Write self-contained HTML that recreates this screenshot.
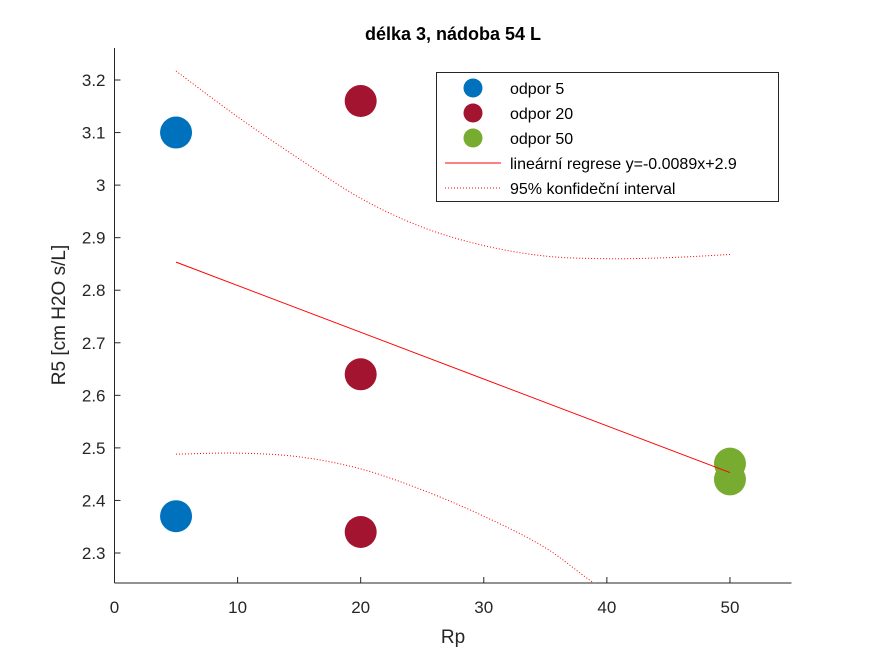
<!DOCTYPE html>
<html><head><meta charset="utf-8"><style>
html,body{margin:0;padding:0;background:#fff;overflow:hidden;width:875px;height:656px;}
svg{display:block;font-family:"Liberation Sans",Arial,sans-serif;}
</style></head><body>
<svg id="chart" width="875" height="656" viewBox="0 0 875 656">
<rect width="875" height="656" fill="#fff"/>
<defs><clipPath id="plotclip"><rect x="114.5" y="48" width="677" height="535"/></clipPath></defs>
<text x="453" y="40" text-anchor="middle" font-size="18" font-weight="bold" fill="#000">délka 3, nádoba 54 L</text>
<g id="axes"></g>
<g id="bands" clip-path="url(#plotclip)"></g>
<g id="marks"></g>
<text x="453" y="643" text-anchor="middle" font-size="19" fill="#262626">Rp</text>
<text transform="translate(65,315) rotate(-90)" text-anchor="middle" font-size="19" fill="#262626">R5 [cm H2O s/L]</text>
<g>
<rect x="436.5" y="72.5" width="342" height="129" fill="#fff" stroke="#262626" stroke-width="1"/>
<circle cx="473" cy="88" r="9.5" fill="#0072BD"/>
<text x="510" y="94" font-size="16" fill="#000">odpor 5</text>
<circle cx="473" cy="113" r="9.5" fill="#A2142F"/>
<text x="510" y="119" font-size="16" fill="#000">odpor 20</text>
<circle cx="473" cy="138" r="9.5" fill="#77AC30"/>
<text x="510" y="144" font-size="16" fill="#000">odpor 50</text>
<line x1="445" y1="163" x2="501" y2="163" stroke="#f00" stroke-width="1"/>
<text x="510" y="169" font-size="16" fill="#000">lineární regrese y=-0.0089x+2.9</text>
<line x1="445" y1="188" x2="501" y2="188" stroke="#f00" stroke-width="1" stroke-dasharray="1,2"/>
<text x="510" y="194" font-size="16" fill="#000">95% konfideční interval</text>
</g>
</svg>
<script>
const xTicks = [0,10,20,30,40,50];
const yTicks = [2.3,2.4,2.5,2.6,2.7,2.8,2.9,3,3.1,3.2];
const yTickLabels = ["2.3","2.4","2.5","2.6","2.7","2.8","2.9","3","3.1","3.2"];
const blueX = [5,5];
const blueY = [3.10,2.37];
const redX = [20,20,20];
const redY = [3.16,2.64,2.34];
const greenX = [50,50];
const greenY = [2.47,2.44];
const regSlope = -0.0089;
const regIntercept = 2.898;
const regRange = [5,50];
const bandX = [5,10,15,20,25,30,35,40,45,50];
const bandUpper = [3.217,3.13,3.05,2.975,2.92,2.885,2.865,2.86,2.862,2.868];
const bandLower = [2.488,2.49,2.483,2.46,2.42,2.37,2.31,2.228,2.19,2.04];

const NS="http://www.w3.org/2000/svg";
const X0=114.5,X1=791.5,Y0=583,Y1=48;
const xmin=0,xmax=55,ymin=2.2429,ymax=3.2609;
const sx=v=>X0+(v-xmin)/(xmax-xmin)*(X1-X0);
const sy=v=>Y0-(v-ymin)/(ymax-ymin)*(Y0-Y1);
function mk(tag,attrs,parent){const e=document.createElementNS(NS,tag);for(const k in attrs)e.setAttribute(k,attrs[k]);parent.appendChild(e);return e;}
const axes=document.getElementById('axes');
let e=mk('line',{x1:X0,y1:Y0,x2:X1,y2:Y0,stroke:'#262626','stroke-width':1},axes);


e=mk('line',{x1:X0,y1:Y0,x2:X0,y2:Y1,stroke:'#262626','stroke-width':1},axes);


xTicks.forEach(t=>{
  const x=sx(t);
  let l=mk('line',{x1:x,y1:Y0,x2:x,y2:Y0-6,stroke:'#262626'},axes);
  
  
  let tx=mk('text',{x:x,y:Y0+30,'text-anchor':'middle','font-size':17,fill:'#262626'},axes);
  tx.textContent=t;
  
  
});
yTicks.forEach((t,i)=>{
  const y=sy(t);
  let l=mk('line',{x1:X0,y1:y,x2:X0+6,y2:y,stroke:'#262626'},axes);
  
  
  let tx=mk('text',{x:X0-9,y:y+6,'text-anchor':'end','font-size':17,fill:'#262626'},axes);
  tx.textContent=yTickLabels[i];
  
  
});
const bands=document.getElementById('bands');
function smooth(xs,ys){
  let d='M'+sx(xs[0])+','+sy(ys[0]);
  for(let i=0;i<xs.length-1;i++){
    const p0=[sx(xs[Math.max(0,i-1)]),sy(ys[Math.max(0,i-1)])],p1=[sx(xs[i]),sy(ys[i])],p2=[sx(xs[i+1]),sy(ys[i+1])],p3=[sx(xs[Math.min(xs.length-1,i+2)]),sy(ys[Math.min(xs.length-1,i+2)])];
    const c1=[p1[0]+(p2[0]-p0[0])/6,p1[1]+(p2[1]-p0[1])/6],c2=[p2[0]-(p3[0]-p1[0])/6,p2[1]-(p3[1]-p1[1])/6];
    d+='C'+c1.join(',')+' '+c2.join(',')+' '+p2.join(',');
  }
  return d;
}
e=mk('path',{d:smooth(bandX,bandUpper),fill:'none',stroke:'#f00','stroke-width':1,'stroke-dasharray':'1,2'},bands);


e=mk('path',{d:smooth(bandX,bandLower),fill:'none',stroke:'#f00','stroke-width':1,'stroke-dasharray':'1,2'},bands);


const marks=document.getElementById('marks');
function dots(xs,ys,c,name){xs.forEach((x,i)=>{
  const d=mk('circle',{cx:sx(x),cy:sy(ys[i]),r:16,fill:c},marks);
  
  
});}
dots(blueX,blueY,'#0072BD','point-odpor-5');
dots(redX,redY,'#A2142F','point-odpor-20');
dots(greenX,greenY,'#77AC30','point-odpor-50');
e=mk('line',{x1:sx(regRange[0]),y1:sy(regSlope*regRange[0]+regIntercept),x2:sx(regRange[1]),y2:sy(regSlope*regRange[1]+regIntercept),stroke:'#f00','stroke-width':1},marks);


</script>
</body></html>
